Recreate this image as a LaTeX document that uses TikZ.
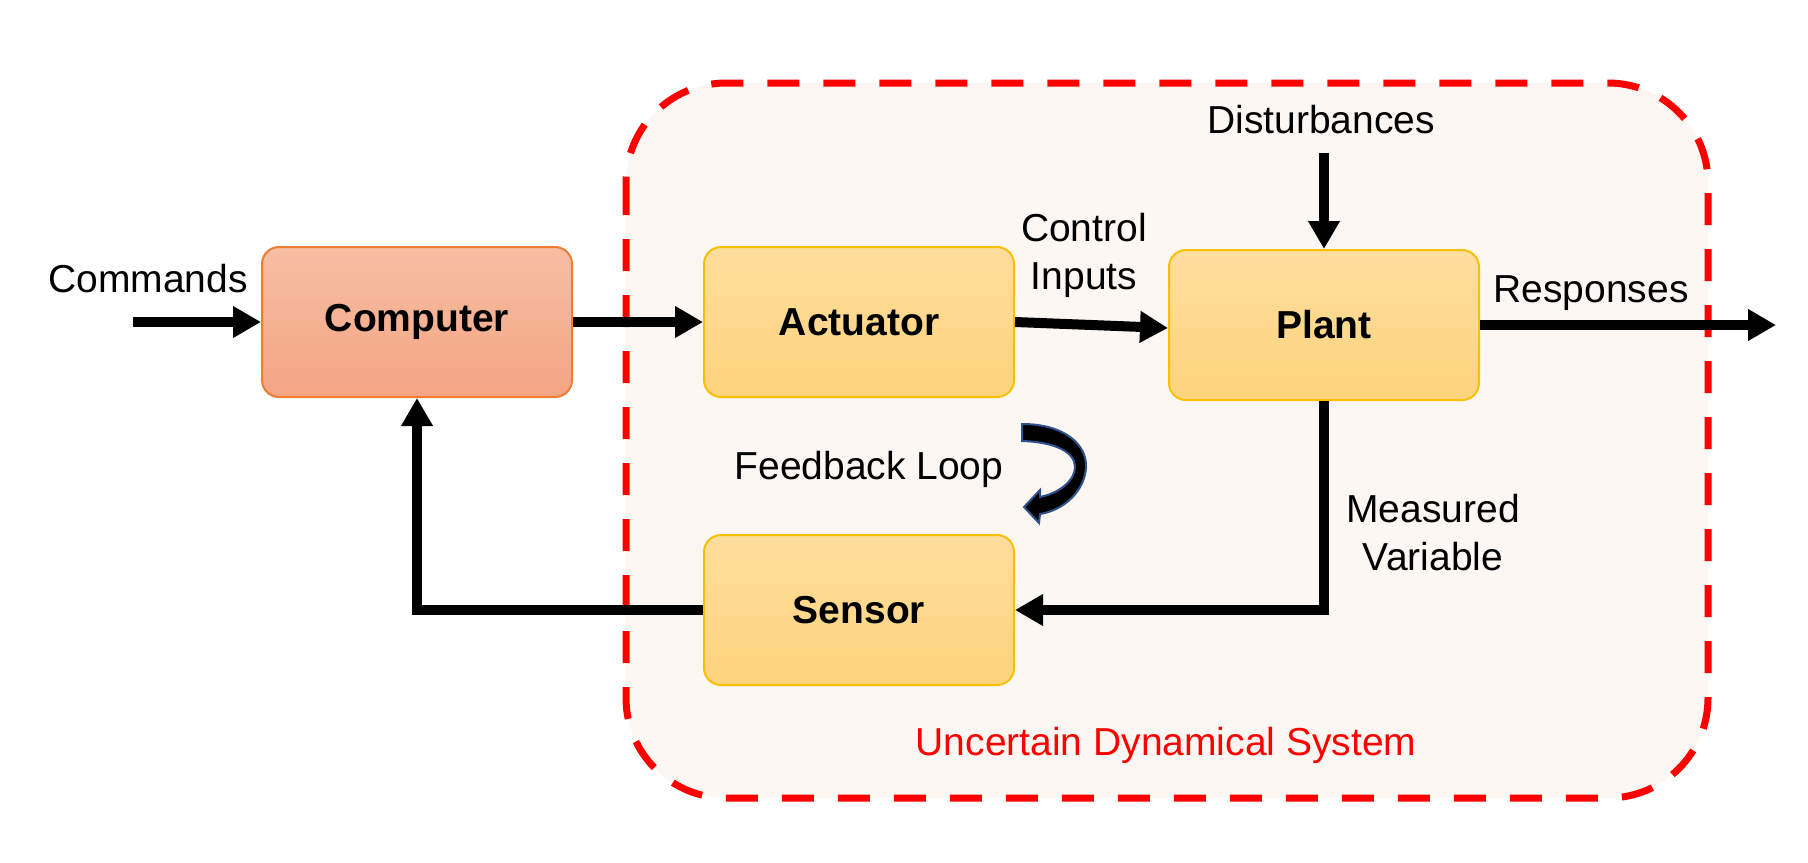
\documentclass[tikz,border=0pt]{standalone}
\usepackage{fontspec}
\setmainfont{Liberation Sans}
\usetikzlibrary{positioning,arrows.meta}

\definecolor{comptop}{HTML}{F6BEA4}
\definecolor{compbot}{HTML}{F4A482}
\definecolor{compline}{HTML}{ED7D31}
\definecolor{parttop}{HTML}{FEDE9E}
\definecolor{partbot}{HTML}{FDD37C}
\definecolor{partline}{HTML}{F8C000}
\definecolor{sysfill}{HTML}{FCF7F3}
\definecolor{loopline}{HTML}{2F528F}

\begin{document}
\begin{tikzpicture}[node distance=65pt, font=\fontsize{19.5pt}{24pt}\selectfont]
    \tikzstyle{block} = [rectangle, draw=partline, line width=1pt,
        top color=parttop, bottom color=partbot, minimum width=155pt,
        minimum height=75pt, rounded corners=8.5pt,
        font=\fontsize{19.5pt}{24pt}\selectfont\bfseries]
    \tikzstyle{line} = [draw, line width=5pt,
        -{Triangle[length=14pt,width=15pt]}]
    \tikzstyle{note} = [align=center, inner sep=0pt]
    \tikzstyle{container} = [draw=red, line width=3.5pt,
        dash pattern=on 16pt off 12pt, rounded corners=50pt, fill=sysfill]

    \useasboundingbox (0,0) rectangle (904pt,-431pt);

    % Uncertain Dynamical System
    \draw[container] (313pt,-41.5pt) rectangle (854pt,-399pt);
    \node[note, text=red] (sysname) at (583pt,-372.5pt)
        {Uncertain Dynamical System};

    % Blocks
    \node[block, draw=compline, top color=comptop, bottom color=compbot]
        (computer) at (208.5pt,-161pt) {Computer};
    \node[block, right=of computer] (actuator) {Actuator};
    \node[block, right=76.5pt of actuator, yshift=-1.5pt] (plant) {Plant};
    \node[block, below=68pt of actuator] (sensor) {Sensor};

    % Labels
    \coordinate (cmdin) at (66.5pt,-161pt);
    \node[note] (cmdname) at (74pt,-139.5pt) {Commands};
    \node[note] (inname) at (542pt,-127.5pt) {Control\\Inputs};
    \node[note] (disname) at (660.5pt,-60pt) {Disturbances};
    \coordinate (disin) at (662pt,-76.5pt);
    \node[note] (resname) at (795.5pt,-146.5pt) {Responses};
    \coordinate (resout) at (888pt,-162.5pt);
    \node[note] (measname) at (716.5pt,-266.5pt) {Measured\\Variable};
    \node[note] (loopname) at (434.5pt,-234.5pt) {Feedback Loop};

    % Connections
    \draw[line] (cmdin) -- (computer.west);
    \draw[line] (computer.east) -- (actuator.west);
    \draw[line] (actuator.east) -- ([yshift=-1.5pt]plant.west);
    \draw[line] (plant.north |- disin) -- (plant.north);
    \draw[line] (plant.east) -- (resout);
    \draw[line] (plant.south) |- (sensor.east);
    \draw[line] (sensor.west) -| (computer.south);

    % Feedback loop arrow
    \filldraw[fill=black, draw=loopline, line width=1pt]
        (511pt,-212pt) .. controls (532.5pt,-212pt) and (543.5pt,-222.5pt) ..
        (543pt,-233.5pt) .. controls (542.5pt,-245pt) and (532.5pt,-255pt) ..
        (520pt,-257pt) -- (519.5pt,-261.5pt) -- (512pt,-253.5pt) --
        (520pt,-245pt) -- (520pt,-248.5pt) .. controls (530pt,-246.5pt) and
        (537.5pt,-240pt) .. (537.5pt,-233.5pt) .. controls (537.5pt,-226pt)
        and (527.5pt,-221pt) .. (511pt,-220.5pt) -- cycle;
\end{tikzpicture}
\end{document}
